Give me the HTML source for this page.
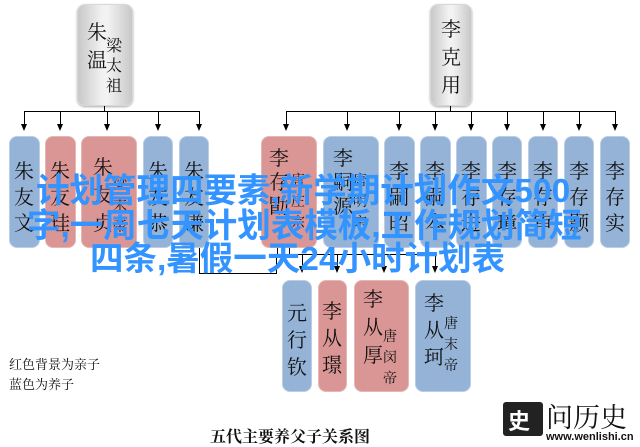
<!DOCTYPE html>
<html><head><meta charset="utf-8"><style>
body{margin:0;width:640px;height:445px;background:#fff;position:relative;overflow:hidden;font-family:"Liberation Serif","Noto Serif CJK SC","Noto Sans CJK SC",serif;}
.b{position:absolute;border-radius:8px;box-sizing:border-box;}
.bl{background:#95b3d7;border:1px solid #b9cde6;}
.rd{background:#d99694;border:1px solid #e6b5b4;}
.g{background:linear-gradient(90deg,#c8c8c8,#f2f2f2 45%,#f2f2f2 55%,#c8c8c8);border:1px solid #d8d8d8;box-shadow:0 1px 2px #aaa;}
.c{position:absolute;font-size:20px;line-height:26px;width:24px;text-align:center;color:#111;font-family:"Noto Serif CJK SC",serif;}
.s{position:absolute;font-size:14px;line-height:21px;width:16px;text-align:center;color:#111;font-family:"Noto Serif CJK SC",serif;}
.l{position:absolute;background:#000;}
.a{position:absolute;width:0;height:0;border-left:3px solid transparent;border-right:3px solid transparent;border-top:7px solid #000;}
.o{position:absolute;color:#3394ff;font-weight:bold;font-size:33.5px;line-height:34px;white-space:nowrap;font-family:"Liberation Sans","Noto Sans CJK SC",sans-serif;}
</style></head><body>
<div class="b g" style="left:77px;top:4px;width:56px;height:102px"></div>
<div class="c" style="left:85px;top:17px;line-height:28px">朱<br>温</div>
<div class="s" style="left:106px;top:35px;font-size:16px;line-height:20px">梁<br>太<br>祖</div>
<div class="b g" style="left:430px;top:4px;width:42px;height:102px"></div>
<div class="c" style="left:439px;top:14px;line-height:28px">李<br>克<br>用</div>

<div class="l" style="left:104px;top:106px;width:1px;height:5px"></div>
<div class="l" style="left:24px;top:111px;width:176px;height:1px"></div>
<div class="l" style="left:450px;top:106px;width:1px;height:5px"></div>
<div class="l" style="left:286px;top:111px;width:330px;height:1px"></div>

<div class="l" style="left:24px;top:111px;width:1px;height:15px"></div><div class="a" style="left:21px;top:124px"></div>
<div class="l" style="left:60px;top:111px;width:1px;height:15px"></div><div class="a" style="left:57px;top:124px"></div>
<div class="l" style="left:107px;top:111px;width:1px;height:15px"></div><div class="a" style="left:104px;top:124px"></div>
<div class="l" style="left:158px;top:111px;width:1px;height:15px"></div><div class="a" style="left:155px;top:124px"></div>
<div class="l" style="left:199px;top:111px;width:1px;height:15px"></div><div class="a" style="left:196px;top:124px"></div>
<div class="l" style="left:286px;top:111px;width:1px;height:15px"></div><div class="a" style="left:283px;top:124px"></div>
<div class="l" style="left:347px;top:111px;width:1px;height:15px"></div><div class="a" style="left:344px;top:124px"></div>
<div class="l" style="left:399px;top:111px;width:1px;height:15px"></div><div class="a" style="left:396px;top:124px"></div>
<div class="l" style="left:435px;top:111px;width:1px;height:15px"></div><div class="a" style="left:432px;top:124px"></div>
<div class="l" style="left:471px;top:111px;width:1px;height:15px"></div><div class="a" style="left:468px;top:124px"></div>
<div class="l" style="left:507px;top:111px;width:1px;height:15px"></div><div class="a" style="left:504px;top:124px"></div>
<div class="l" style="left:543px;top:111px;width:1px;height:15px"></div><div class="a" style="left:540px;top:124px"></div>
<div class="l" style="left:579px;top:111px;width:1px;height:15px"></div><div class="a" style="left:576px;top:124px"></div>
<div class="l" style="left:615px;top:111px;width:1px;height:15px"></div><div class="a" style="left:612px;top:124px"></div>

<div class="b bl" style="left:9px;top:136px;width:31px;height:112px"></div><div class="c" style="left:12px;top:157px">朱<br>友<br>文</div>
<div class="b rd" style="left:45px;top:136px;width:31px;height:112px"></div><div class="c" style="left:48px;top:157px">朱<br>友<br>珪</div>
<div class="b rd" style="left:81px;top:136px;width:56px;height:112px"></div><div class="c" style="left:91px;top:152px;line-height:28px">朱<br>友<br>贞</div><div class="s" style="left:112px;top:174px">梁<br>末<br>帝</div>
<div class="b bl" style="left:143px;top:136px;width:30px;height:112px"></div><div class="c" style="left:146px;top:157px">朱<br>友<br>恭</div>
<div class="b bl" style="left:179px;top:136px;width:30px;height:112px"></div><div class="c" style="left:182px;top:157px">朱<br>友<br>谦</div>

<div class="b rd" style="left:261px;top:136px;width:56px;height:112px"></div><div class="c" style="left:267px;top:145px;line-height:24px">李<br>存<br>勖</div><div class="s" style="left:290px;top:170px">唐<br>庄<br>宗</div>
<div class="b bl" style="left:323px;top:136px;width:56px;height:112px"></div><div class="c" style="left:331px;top:145px;line-height:24px">李<br>嗣<br>源</div><div class="s" style="left:352px;top:170px">唐<br>明<br>宗</div>
<div class="b bl" style="left:384px;top:136px;width:31px;height:112px"></div><div class="c" style="left:387px;top:157px">李<br>嗣<br>昭</div>
<div class="b bl" style="left:420px;top:136px;width:31px;height:112px"></div><div class="c" style="left:423px;top:157px">李<br>嗣<br>本</div>
<div class="b bl" style="left:456px;top:136px;width:31px;height:112px"></div><div class="c" style="left:459px;top:157px">李<br>存<br>进</div>
<div class="b bl" style="left:492px;top:136px;width:30px;height:112px"></div><div class="c" style="left:495px;top:157px">李<br>存<br>璋</div>
<div class="b bl" style="left:528px;top:136px;width:30px;height:112px"></div><div class="c" style="left:531px;top:157px">李<br>存<br>审</div>
<div class="b bl" style="left:564px;top:136px;width:30px;height:112px"></div><div class="c" style="left:567px;top:157px">李<br>存<br>颢</div>
<div class="b bl" style="left:600px;top:136px;width:30px;height:112px"></div><div class="c" style="left:603px;top:157px">李<br>存<br>实</div>

<div style="position:absolute;left:199px;top:255px;width:78px;height:19px;border:1px solid #000;border-top:none;box-sizing:border-box"></div>
<div class="l" style="left:199px;top:248px;width:1px;height:8px"></div>
<div class="l" style="left:277px;top:248px;width:1px;height:8px"></div>
<div class="l" style="left:289px;top:248px;width:1px;height:6px"></div>
<div class="l" style="left:289px;top:254px;width:147px;height:1px"></div>
<div class="l" style="left:302px;top:254px;width:1px;height:14px"></div><div class="a" style="left:299px;top:266px"></div>
<div class="l" style="left:337px;top:254px;width:1px;height:14px"></div><div class="a" style="left:334px;top:266px"></div>
<div class="l" style="left:384px;top:254px;width:1px;height:14px"></div><div class="a" style="left:381px;top:266px"></div>
<div class="l" style="left:435px;top:254px;width:1px;height:14px"></div><div class="a" style="left:432px;top:266px"></div>

<div class="b bl" style="left:282px;top:280px;width:30px;height:112px"></div><div class="c" style="left:285px;top:298px;line-height:27px">元<br>行<br>钦</div>
<div class="b rd" style="left:318px;top:280px;width:29px;height:112px"></div><div class="c" style="left:320px;top:296px;line-height:27px">李<br>从<br>璟</div>
<div class="b rd" style="left:354px;top:280px;width:55px;height:112px"></div><div class="c" style="left:361px;top:284px;line-height:28px">李<br>从<br>厚</div><div class="s" style="left:382px;top:326px">唐<br>闵<br>帝</div>
<div class="b bl" style="left:415px;top:280px;width:56px;height:112px"></div><div class="c" style="left:422px;top:288px;line-height:27px">李<br>从<br>珂</div><div class="s" style="left:443px;top:313px">唐<br>末<br>帝</div>

<div style="position:absolute;left:9px;top:355px;font-size:13px;line-height:20px;color:#111">红色背景为亲子<br>蓝色为养子</div>
<div style="position:absolute;left:210px;top:424px;font-size:16px;font-weight:bold;color:#111">五代主要养父子关系图</div>

<div style="position:absolute;left:503px;top:402px;width:40px;height:34px;background:#222;border-radius:3px"></div>
<div style="position:absolute;left:508px;top:404px;color:#fff;font-size:22px;font-weight:bold;font-family:'Noto Sans CJK SC',sans-serif">史</div>
<div style="position:absolute;left:546px;top:396px;font-size:27px;color:#111;font-family:'Noto Serif CJK SC',serif">问历史</div>
<div style="position:absolute;left:546px;top:431px;font-size:11px;font-weight:bold;color:#111;font-family:'Liberation Sans',sans-serif">www.wenlishi.cn</div>

<div class="o" style="left:36px;top:175px">计划管理四要素,新学期计划作文500</div>
<div class="o" style="left:27px;top:210px">字,一周七天计划表模板,工作规划简短</div>
<div class="o" style="left:90px;top:243px">四条,暑假一天24小时计划表</div>
</body></html>
